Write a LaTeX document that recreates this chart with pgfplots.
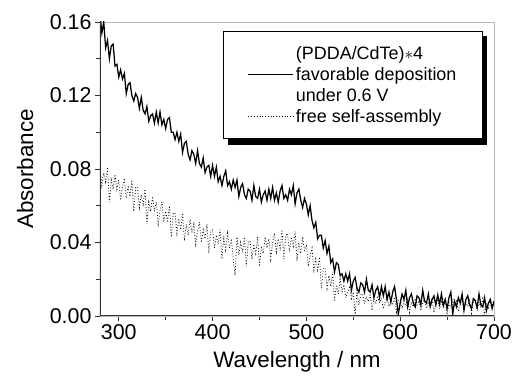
\documentclass[border=0pt]{standalone}
\usepackage{pgfplots}
\pgfplotsset{compat=1.18}
\usepackage{fontspec}
\setmainfont{Liberation Sans}
\newcommand{\lf}{\fontsize{18}{21}\selectfont}
\begin{document}
\begin{tikzpicture}
\useasboundingbox (-100bp,-60bp) rectangle (417bp,316bp);
\begin{axis}[
  at={(0,0)}, anchor=south west,
  scale only axis, width=394bp, height=294bp,
  xmin=280, xmax=700, ymin=0, ymax=0.16,
  xtick={300,400,500,600,700},
  xticklabels={300,400,500,600,700},
  ytick={0,0.04,0.08,0.12,0.16},
  yticklabels={0.00,0.04,0.08,0.12,0.16},
  minor x tick num=1, minor y tick num=1,
  xtick pos=bottom, ytick pos=left,
  tick align=outside,
  major tick length=5bp, minor tick length=3.5bp,
  every tick/.style={black!80, line width=0.9bp},
  axis line style={gray!55, line width=0.6bp},
  tick label style={font=\fontsize{21.5}{24}\selectfont},
  xlabel={Wavelength / nm}, ylabel={Absorbance},
  label style={font=\fontsize{22.5}{26}\selectfont},
  xlabel style={at={(axis description cs:0.5,-0.156)}, anchor=center},
  ylabel style={at={(axis description cs:-0.19,0.5)}, anchor=center},
  legend cell align=left,
  legend image code/.code={\draw[#1] (0bp,0bp) -- (45bp,0bp);},
  legend style={name=leg, at={(0.972,0.969)}, anchor=north east, draw=black, line width=1bp,
    inner xsep=24bp, inner ysep=12.5bp, row sep=2.5bp},
]
\addlegendimage{empty legend}
\addlegendentry{\lf(PDDA/CdTe)$\ast$4}
\addplot[black, line width=1.25bp] coordinates {
(280,0.164)(282,0.154)(284,0.160)(286,0.146)(288,0.150)(290,0.140)(292,0.147)(294,0.148)(296,0.136)(298,0.137)(300,0.130)(302,0.134)(304,0.129)(306,0.132)(308,0.121)(310,0.126)(312,0.127)(314,0.120)(316,0.117)(318,0.121)(320,0.119)(322,0.113)(324,0.119)(326,0.112)(328,0.110)(330,0.114)(332,0.106)(334,0.109)(336,0.110)(338,0.105)(340,0.111)(342,0.105)(344,0.111)(346,0.104)(348,0.107)(350,0.102)(352,0.107)(354,0.108)(356,0.100)(358,0.100)(360,0.096)(362,0.100)(364,0.095)(366,0.099)(368,0.089)(370,0.094)(372,0.095)(374,0.088)(376,0.085)(378,0.090)(380,0.088)(382,0.083)(384,0.090)(386,0.083)(388,0.081)(390,0.086)(392,0.078)(394,0.081)(396,0.082)(398,0.076)(400,0.082)(402,0.076)(404,0.081)(406,0.073)(408,0.076)(410,0.071)(412,0.076)(414,0.079)(416,0.071)(418,0.073)(420,0.069)(422,0.074)(424,0.070)(426,0.074)(428,0.065)(430,0.070)(432,0.072)(434,0.066)(436,0.064)(438,0.069)(440,0.068)(442,0.063)(444,0.071)(446,0.065)(448,0.064)(450,0.069)(452,0.062)(454,0.066)(456,0.068)(458,0.063)(460,0.069)(462,0.064)(464,0.070)(466,0.063)(468,0.067)(470,0.062)(472,0.068)(474,0.071)(476,0.064)(478,0.066)(480,0.063)(482,0.069)(484,0.066)(486,0.071)(488,0.061)(490,0.067)(492,0.069)(494,0.063)(496,0.059)(498,0.064)(500,0.061)(502,0.055)(504,0.060)(506,0.052)(508,0.048)(510,0.051)(512,0.042)(514,0.044)(516,0.044)(518,0.037)(520,0.041)(522,0.034)(524,0.038)(526,0.029)(528,0.031)(530,0.024)(532,0.029)(534,0.028)(536,0.022)(538,0.023)(540,0.019)(542,0.023)(544,0.019)(546,0.023)(548,0.014)(550,0.019)(552,0.021)(554,0.015)(556,0.013)(558,0.018)(560,0.017)(562,0.013)(564,0.020)(566,0.014)(568,0.013)(570,0.017)(572,0.010)(574,0.014)(576,0.016)(578,0.010)(580,0.016)(582,0.011)(584,0.016)(586,0.009)(588,0.013)(590,0.0075)(592,0.013)(594,0.016)(596,0.009)(598,0.001)(600,0.007)(602,0.012)(604,0.009)(606,0.014)(608,0.005)(610,0.010)(612,0.012)(614,0.007)(616,0.005)(618,0.011)(620,0.010)(622,0.006)(624,0.014)(626,0.008)(628,0.007)(630,0.012)(632,0.005)(634,0.009)(636,0.011)(638,0.006)(640,0.0115)(642,0.0065)(644,0.012)(646,0.0055)(648,0.009)(650,0.004)(652,0.010)(654,0.013)(656,0.001)(658,0.008)(660,0.005)(662,0.010)(664,0.007)(666,0.012)(668,0.003)(670,0.009)(672,0.011)(674,0.006)(676,0.004)(678,0.0095)(680,0.0085)(682,0.0045)(684,0.012)(686,0.006)(688,0.005)(690,0.010)(692,0.003)(694,0.007)(696,0.009)(698,0.004)(700,0.008)
};
\addlegendentry{\lf favorable deposition}
\addlegendimage{empty legend}
\addlegendentry{\lf under 0.6 V}
\addplot[black, line width=0.8bp, dotted] coordinates {
(280,0.082)(282,0.071)(284,0.078)(286,0.073)(288,0.081)(290,0.062)(292,0.074)(294,0.069)(296,0.077)(298,0.069)(300,0.074)(302,0.063)(304,0.070)(306,0.075)(308,0.064)(310,0.071)(312,0.065)(314,0.074)(316,0.057)(318,0.070)(320,0.070)(322,0.059)(324,0.066)(326,0.061)(328,0.069)(330,0.050)(332,0.062)(334,0.057)(336,0.065)(338,0.057)(340,0.062)(342,0.050)(344,0.057)(346,0.062)(348,0.051)(350,0.057)(352,0.051)(354,0.060)(356,0.043)(358,0.056)(360,0.056)(362,0.045)(364,0.053)(366,0.047)(368,0.056)(370,0.041)(372,0.050)(374,0.044)(376,0.053)(378,0.045)(380,0.050)(382,0.039)(384,0.046)(386,0.051)(388,0.040)(390,0.047)(392,0.042)(394,0.050)(396,0.034)(398,0.046)(400,0.047)(402,0.037)(404,0.044)(406,0.039)(408,0.047)(410,0.031)(412,0.042)(414,0.036)(416,0.045)(418,0.037)(420,0.042)(422,0.031)(424,0.022)(426,0.043)(428,0.033)(430,0.040)(432,0.035)(434,0.043)(436,0.027)(438,0.040)(440,0.041)(442,0.031)(444,0.039)(446,0.034)(448,0.043)(450,0.027)(452,0.038)(454,0.034)(456,0.043)(458,0.037)(460,0.042)(462,0.031)(464,0.040)(466,0.045)(468,0.035)(470,0.042)(472,0.037)(474,0.047)(476,0.031)(478,0.044)(480,0.045)(482,0.035)(484,0.043)(486,0.038)(488,0.046)(490,0.030)(492,0.040)(494,0.034)(496,0.043)(498,0.035)(500,0.039)(502,0.027)(504,0.033)(506,0.037)(508,0.025)(510,0.031)(512,0.025)(514,0.032)(516,0.015)(518,0.026)(520,0.026)(522,0.015)(524,0.022)(526,0.016)(528,0.024)(530,0.008)(532,0.017)(534,0.012)(536,0.020)(538,0.013)(540,0.017)(542,0.010)(544,0.013)(546,0.0155)(548,0.0095)(550,0.013)(552,0.001)(554,0.014)(556,0.006)(558,0.0115)(560,0.012)(562,0.0068)(564,0.0106)(566,0.0079)(568,0.0122)(570,0.003)(572,0.0093)(574,0.0066)(576,0.0109)(578,0.0072)(580,0.0095)(582,0.0039)(584,0.0078)(586,0.0102)(588,0.0051)(590,0.0085)(592,0.0059)(594,0.0103)(596,0.0022)(598,0.0086)(600,0.009)(602,0.004)(604,0.008)(606,0.0055)(608,0.010)(610,0.002)(612,0.0075)(614,0.005)(616,0.0095)(618,0.006)(620,0.0084)(622,0.0029)(624,0.0069)(626,0.0094)(628,0.0044)(630,0.0078)(632,0.0053)(634,0.0098)(636,0.0018)(638,0.0083)(640,0.0088)(642,0.0037)(644,0.0077)(646,0.0052)(648,0.0097)(650,0.0007)(652,0.0072)(654,0.0046)(656,0.0091)(658,0.0056)(660,0.0081)(662,0.0026)(664,0.0066)(666,0.0091)(668,0.0041)(670,0.0076)(672,0.0051)(674,0.0095)(676,0.0015)(678,0.008)(680,0.0085)(682,0.0035)(684,0.0075)(686,0.005)(688,0.0095)(690,0.0005)(692,0.007)(694,0.0045)(696,0.009)(698,0.0055)(700,0.008)
};
\addlegendentry{\lf free self-assembly}
\draw[black!80, line width=1.2bp] (rel axis cs:0,1) -- (rel axis cs:0,0) -- (rel axis cs:1,0);
\end{axis}
\fill[black] ([xshift=0.5bp,yshift=-5bp]leg.north east) rectangle ([xshift=4.5bp,yshift=-6.5bp]leg.south east);
\fill[black] ([xshift=5bp,yshift=-0.5bp]leg.south west) rectangle ([xshift=4.5bp,yshift=-6.5bp]leg.south east);
\end{tikzpicture}
\end{document}
